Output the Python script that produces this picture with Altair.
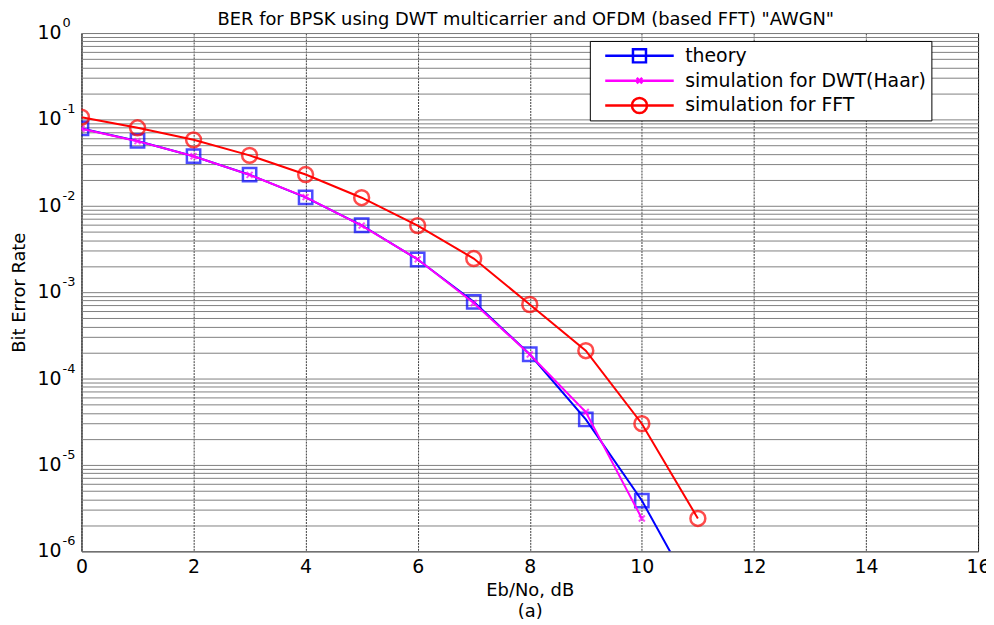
import altair as alt
import pandas as pd

# ---- data ----
ebno = [0, 1, 2, 3, 4, 5, 6, 7, 8, 9, 10, 11]
theory = [7.86e-2, 5.63e-2, 3.75e-2, 2.29e-2, 1.25e-2, 5.95e-3, 2.39e-3, 7.73e-4, 1.91e-4, 3.36e-5, 3.87e-6, 2.61e-7]
ebno_dwt = [0, 1, 2, 3, 4, 5, 6, 7, 8, 9, 10]
dwt = [7.8e-2, 5.6e-2, 3.74e-2, 2.28e-2, 1.26e-2, 5.9e-3, 2.4e-3, 7.5e-4, 1.9e-4, 4.1e-5, 2.4e-6]
fft = [0.106, 0.080, 0.0580, 0.0383, 0.0230, 0.0124, 0.0059, 0.00245, 0.00072, 0.00021, 3.0e-5, 2.4e-6]

names = ["theory", "simulation for DWT(Haar)", "simulation for FFT"]
colors = ["#0000FF", "#FF00FF", "#FF0000"]
x_ticks = [0, 2, 4, 6, 8, 10, 12, 14, 16]
decades = [1, 1e-1, 1e-2, 1e-3, 1e-4, 1e-5, 1e-6]
decade_exp = ["0", "-1", "-2", "-3", "-4", "-5", "-6"]
minor_vals = [m * d for d in decades[1:] for m in range(1, 10)] + [1]

title_text = 'BER for BPSK using DWT multicarrier and OFDM (based FFT) "AWGN"'
FONT = "DejaVu Sans"
W, H = 903, 522

frames = [
    pd.DataFrame({"series": names[0], "x": ebno, "ber": theory}),
    pd.DataFrame({"series": names[1], "x": ebno_dwt, "ber": dwt}),
    pd.DataFrame({"series": names[2], "x": ebno, "ber": fft}),
]
df = pd.concat(frames, ignore_index=True)
dec_df = pd.DataFrame({"v": decades, "e": decade_exp})

xscale = alt.Scale(domain=[0, 16], nice=False, zero=False)
yscale = alt.Scale(type="log", domain=[1e-6, 1], nice=False)
cscale = alt.Scale(domain=names, range=colors)

# symbol paths (unit box); legend paths include the line through the marker
mk_x = "M-1,-1L1,1M-1,1L1,-1"
leg_paths = [
    "M-1,0H1M-0.19,-0.19H0.19V0.19H-0.19Z",
    "M-1,0H1M-0.08,-0.08L0.08,0.08M-0.08,0.08L0.08,-0.08",
    "M-1,0H1M-0.22,0A0.22,0.22,0,1,1,0.22,0A0.22,0.22,0,1,1,-0.22,0",
]

X = alt.X("x:Q", scale=xscale,
          axis=alt.Axis(values=x_ticks, format="d", title=["Eb/No, dB", "(a)"], grid=True,
                        gridColor="#3a3a3a", gridDash=[2, 1], gridWidth=1,
                        ticks=False, domain=False, labelFontSize=19, labelFont=FONT,
                        labelColor="black", labelPadding=6, titleFont=FONT,
                        titleFontSize=18, titleFontWeight="normal", titleColor="black",
                        titlePadding=6, titleLineHeight=21, labelFlush=False))
Y = alt.Y("ber:Q", scale=yscale,
          axis=alt.Axis(values=minor_vals, labels=False, ticks=False, domain=False,
                        grid=True, gridColor="#808080", gridWidth=1,
                        title="Bit Error Rate", titleFont=FONT, titleFontSize=18,
                        titleFontWeight="normal", titleColor="black", titlePadding=53))

base = alt.Chart(df)
layers = []
for i, name in enumerate(names):
    sub = base.transform_filter(alt.datum.series == name)
    line = sub.mark_line(strokeWidth=2, clip=True).encode(
        x=X if i == 0 else alt.X("x:Q", scale=xscale),
        y=Y if i == 0 else alt.Y("ber:Q", scale=yscale),
        color=alt.Color("series:N", scale=cscale, legend=None),
        order="x:Q",
    )
    if i == 0:
        pts = sub.mark_point(shape="square", size=180, filled=False, strokeWidth=2.5, clip=True)
    elif i == 1:
        pts = sub.mark_point(shape=mk_x, size=36, filled=False, strokeWidth=2, clip=True)
    else:
        pts = sub.mark_point(shape="circle", size=225, filled=False, strokeWidth=2.5, clip=True)
    pts = pts.encode(
        x=alt.X("x:Q", scale=xscale),
        y=alt.Y("ber:Q", scale=yscale),
        color=alt.Color("series:N", scale=cscale, legend=None),
    )
    layers += [line, pts]

# legend carrier (invisible marks, legend from explicit scales)
leg_df = pd.DataFrame({"label": names, "x": [0] * 3, "ber": [1e-9] * 3})
legend_layer = alt.Chart(leg_df).mark_point(filled=False, opacity=0, clip=True).encode(
    x=alt.X("x:Q", scale=xscale),
    y=alt.Y("ber:Q", scale=yscale),
    shape=alt.Shape("label:N", scale=alt.Scale(domain=names, range=leg_paths), legend=None),
    color=alt.Color("label:N", scale=alt.Scale(domain=names, range=colors),
                    legend=alt.Legend(title=None, orient="none", legendX=512, legendY=8,
                                      symbolSize=4761, symbolStrokeWidth=2.5, symbolOpacity=1,
                                      symbolFillColor="transparent", clipHeight=20,
                                      labelFont=FONT, labelFontSize=19, labelColor="black",
                                      labelLimit=500, labelOffset=10, rowPadding=5,
                                      padding=5, symbolOffset=9,
                                      strokeColor="black", fillColor="white")),
)

y_lab = alt.Chart(dec_df).mark_text(align="right", baseline="middle", fontSize=19,
                                    font=FONT, color="black").encode(
    x=alt.value(-20), y=alt.Y("v:Q", scale=yscale), text="v_txt:N"
).transform_calculate(v_txt="'10'")
y_exp = alt.Chart(dec_df).mark_text(align="left", baseline="middle", fontSize=13,
                                    font=FONT, color="black", dy=-10).encode(
    x=alt.value(-19), y=alt.Y("v:Q", scale=yscale), text="e:N"
)
title_layer = alt.Chart(pd.DataFrame({"t": [title_text]})).mark_text(
    align="center", baseline="alphabetic", fontSize=18, font=FONT, color="black"
).encode(x=alt.value(W / 2 - 4), y=alt.value(-8), text="t:N")

chart = alt.layer(*layers, legend_layer, y_lab, y_exp, title_layer).resolve_scale(
    color="independent", shape="independent"
).properties(
    width=W, height=H,
    autosize=alt.AutoSizeParams(type="none"),
    padding={"left": 74, "top": 23, "right": 8, "bottom": 70},
    background="white",
).configure_view(stroke="black", strokeWidth=1)

chart.save("out.html", embed_options={"renderer": "svg", "actions": False})
